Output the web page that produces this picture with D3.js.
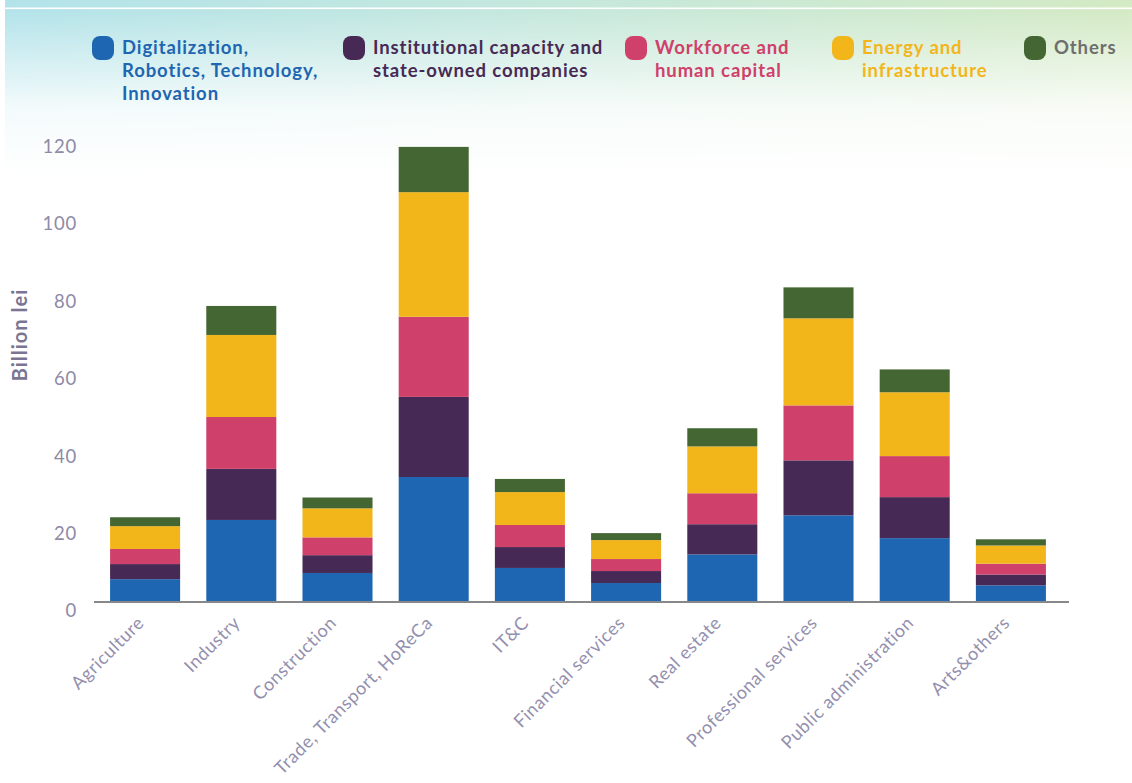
<!DOCTYPE html>
<html><head><meta charset="utf-8">
<script src="https://cdn.jsdelivr.net/npm/d3@7"></script>
<style>html,body{margin:0;padding:0;background:#fff;}svg{display:block;}</style>
</head><body>
<svg id="chart" width="1132" height="783"></svg>
<script>
const categories = ["Agriculture","Industry","Construction","Trade, Transport, HoReCa","IT&C","Financial services","Real estate","Professional services","Public administration","Arts&others"];
const digitalization = [5.9, 21.2, 7.5, 32.3, 8.8, 4.9, 12.3, 22.4, 16.5, 4.3];
const institutional  = [3.9, 13.2, 4.6, 20.7, 5.4, 3.1, 7.8, 14.2, 10.6, 2.8];
const workforce      = [3.9, 13.4, 4.6, 20.7, 5.7, 3.1, 8.0, 14.2, 10.6, 2.8];
const energy         = [5.9, 21.2, 7.5, 32.2, 8.5, 4.9, 12.1, 22.5, 16.5, 4.7];
const others         = [2.3, 7.5, 2.8, 11.7, 3.4, 1.8, 4.7, 8.0, 5.9, 1.6];
const seriesNames = ["Digitalization, Robotics, Technology, Innovation","Institutional capacity and state-owned companies","Workforce and human capital","Energy and infrastructure","Others"];
const legendLines = [["Digitalization,","Robotics, Technology,","Innovation"],["Institutional capacity and","state-owned companies"],["Workforce and","human capital"],["Energy and","infrastructure"],["Others"]];
const yTicks = [0,20,40,60,80,100,120];

const seriesValues = [digitalization, institutional, workforce, energy, others];
const barColors = ["#1e66b1","#472955","#cf406a","#f2b61b","#446632"];
const textColors = ["#1e66b1","#472955","#cf406a","#f2b61b","#6e6e6e"];

const svg = d3.select("#chart");
const defs = svg.append("defs");
const gh = defs.append("linearGradient").attr("id","gh").attr("x1","0").attr("x2","1").attr("y1","0").attr("y2","0");
gh.append("stop").attr("offset","0").attr("stop-color","#b3e3ea");
gh.append("stop").attr("offset","0.5").attr("stop-color","#c6e8dc");
gh.append("stop").attr("offset","1").attr("stop-color","#d4eac4");
const gv = defs.append("linearGradient").attr("id","gv").attr("x1","0").attr("x2","0").attr("y1","0").attr("y2","1");
gv.append("stop").attr("offset","0").attr("stop-color","#fff").attr("stop-opacity",0);
gv.append("stop").attr("offset","0.6").attr("stop-color","#fff").attr("stop-opacity",0.85);
gv.append("stop").attr("offset","1").attr("stop-color","#fff").attr("stop-opacity",1);

svg.append("rect").attr("x",5).attr("y",0).attr("width",1127).attr("height",180).attr("fill","url(#gh)");
svg.append("rect").attr("x",5).attr("y",10).attr("width",1127).attr("height",165).attr("fill","url(#gv)");
svg.append("rect").attr("x",5).attr("y",174).attr("width",1127).attr("height",10).attr("fill","#fff");
svg.append("rect").attr("x",5).attr("y",7.5).attr("width",1127).attr("height",1.6).attr("fill","#fff");

// data table
const table = categories.map((c,i)=>{const o={category:c}; seriesNames.forEach((s,j)=>o[s]=seriesValues[j][i]); return o;});
const stack = d3.stack().keys(seriesNames)(table);

const x = d3.scaleBand().domain(categories).range([97,1059]).paddingInner(0.272).paddingOuter(0.136);
const y = d3.scaleLinear().domain([0,120]).range([602,137.6]);

const g = svg.append("g");
stack.forEach((layer,j)=>{
  g.append("g").attr("fill",barColors[j]).selectAll("rect").data(layer).join("rect")
   .attr("x",d=>x(d.data.category)).attr("width",x.bandwidth())
   .attr("y",d=>y(d[1])).attr("height",d=>y(d[0])-y(d[1]));
});

// y axis
const yAxis = d3.axisLeft(y).tickValues(yTicks).tickSize(0).tickPadding(0);
const ya = svg.append("g").attr("transform","translate(77,9)").call(yAxis);
ya.select(".domain").remove();
ya.selectAll("text").attr("font-family","Lato, sans-serif").attr("font-size",18.5).attr("font-weight",400)
  .attr("letter-spacing",0.8).attr("fill","#8e8aa6");

// x axis
const xAxis = d3.axisBottom(x).tickSize(0).tickPadding(0);
const xa = svg.append("g").attr("transform","translate(0,602)").call(xAxis);
xa.select(".domain").remove();
xa.selectAll("text")
  .attr("font-family","Lato, sans-serif").attr("font-size",18).attr("font-weight",400).attr("fill","#938fae")
  .attr("letter-spacing",0.6)
  .attr("text-anchor","end").attr("dy",0).attr("y",0)
  .attr("transform","translate(0,22) rotate(-45)");

svg.append("line").attr("x1",94).attr("x2",1069).attr("y1",602).attr("y2",602).attr("stroke","#888").attr("stroke-width",2);

// y title
svg.append("text").attr("transform","translate(27,335) rotate(-90)").attr("text-anchor","middle")
  .attr("font-family","Lato, sans-serif").attr("font-weight",700).attr("font-size",20).attr("letter-spacing",1)
  .attr("fill","#7a7592").text("Billion lei");

// legend
const legendX = [92,343,625,832,1024];
const lg = svg.append("g");
legendLines.forEach((lines,j)=>{
  const it = lg.append("g").attr("transform",`translate(${legendX[j]},36)`);
  it.append("rect").attr("width",22).attr("height",24).attr("rx",8).attr("fill",barColors[j]);
  it.append("text").attr("x",30).attr("y",18).attr("font-family","Lato, sans-serif").attr("font-weight",700)
    .attr("font-size",18.5).attr("letter-spacing",0.9).attr("fill",textColors[j])
    .selectAll("tspan").data(lines).join("tspan").attr("x",30).attr("dy",(d,i)=>i===0?0:23).text(d=>d);
});
</script>
</body></html>
